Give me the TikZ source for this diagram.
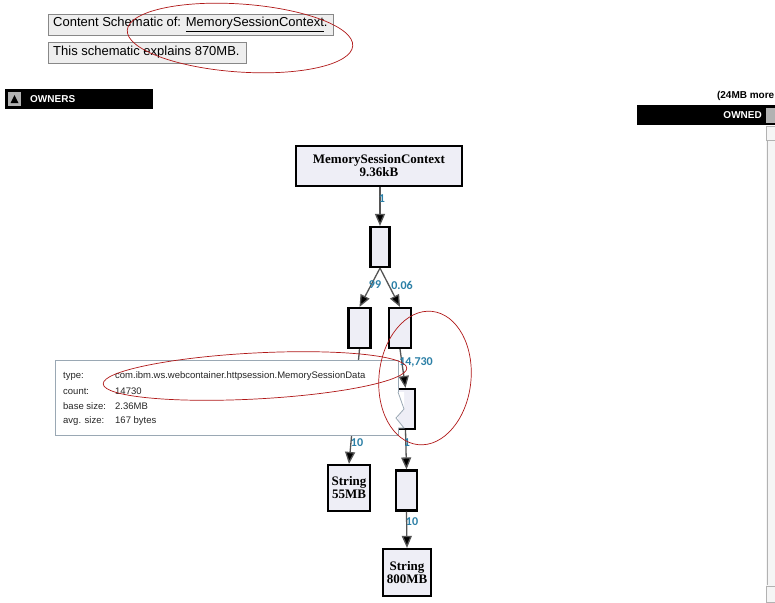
\documentclass[tikz,border=0pt]{standalone}
\usepackage{fontspec}
\setmainfont{Liberation Sans}
\newfontfamily\graphfont{Liberation Serif}
\newfontfamily\lblfont{Carlito}
\usetikzlibrary{arrows.meta,shapes.geometric}
\definecolor{boxgray}{HTML}{EEEEEE}
\definecolor{bordergray}{HTML}{888888}
\definecolor{nodefill}{HTML}{EEEEF6}
\definecolor{teal}{HTML}{2B7FA6}
\definecolor{edgegray}{HTML}{555555}
\definecolor{redline}{HTML}{B01818}
\definecolor{tipgray}{HTML}{9AA8B4}
\tikzset{
  infobox/.style={draw=bordergray,fill=boxgray,line width=0.8,inner sep=0,anchor=north west},
  headtext/.style={anchor=west,inner sep=0,font=\fontsize{13}{15}\selectfont},
  graphnode/.style={draw=black,fill=nodefill,line width=2.2,inner sep=0,font=\graphfont\bfseries\fontsize{13}{13}\selectfont,align=center},
  smallrect/.style={graphnode,minimum width=19,minimum height=40},
  edge/.style={draw=edgegray,line width=1.3,-{Triangle[length=12,width=10,fill=black]}},
  elabel/.style={text=teal,font=\lblfont\bfseries\fontsize{12}{12}\selectfont,inner sep=1},
  redring/.style={draw=redline,line width=0.7},
  bar/.style={fill=black},
  bartext/.style={text=white,font=\bfseries\fontsize{10}{10}\selectfont},
  tiplabel/.style={font=\fontsize{9.5}{10}\selectfont,anchor=west,inner sep=0,text=black!85}
}
\begin{document}
\begin{tikzpicture}[x=1pt,y=-1pt]
\useasboundingbox (0,0) rectangle (775,602);
\fill[white] (0,0) rectangle (775,602);
% header boxes
\node[infobox,minimum width=285,minimum height=21] (h1) at (48,14) {};
\node[headtext] (h1t) at (53,24.5) {Content Schematic of: \underline{MemorySessionContext}.};
\node[infobox,minimum width=198,minimum height=21] (h2) at (48,42) {};
\node[headtext] (h2t) at (53,52.5) {This schematic explains 870MB.};
% owners bar
\fill[bar] (5,89) rectangle (153,109);
\fill[gray!60] (8,92) rectangle (21,106);
\fill[black] (10.5,103) -- (18.5,103) -- (14.5,95) -- cycle;
\node[bartext,anchor=west,inner sep=0] (own) at (30,99) {OWNERS};
% owned bar
\node[anchor=east,inner sep=0,font=\bfseries\fontsize{10}{10}\selectfont] (more) at (774.5,96) {(24MB more};
\fill[bar] (637,105) rectangle (775,125);
\node[bartext,anchor=east,inner sep=0] (owned) at (762,115) {OWNED};
\fill[gray!60] (766,108) rectangle (775,123);
% scrollbar
\fill[gray!8] (766,126) rectangle (775,602);
\draw[gray!60,line width=0.8] (767,140) -- (767,585);
\draw[gray!60,line width=0.6] (766,126) rectangle (776,140);
\draw[gray!60,line width=0.6] (766,586) rectangle (776,602);
% graph nodes
\node[graphnode,minimum width=166,minimum height=40] (msc) at (379,166) {MemorySessionContext\\9.36kB};
\node[smallrect] (r1) at (380,247) {};
\node[smallrect,minimum width=22] (r2) at (359.5,328) {};
\node[smallrect,minimum width=22] (r3) at (400,328) {};
\node[smallrect] (r4) at (405.5,409) {};
\node[graphnode,minimum width=42,minimum height=46] (s55) at (349,488) {String\\55MB};
\node[smallrect,minimum width=21] (r5) at (406.5,490.5) {};
\node[graphnode,minimum width=48,minimum height=47] (s800) at (407,572.5) {String\\800MB};
% edges
\draw[edge] (msc.south -| r1) -- (r1.north);
\draw[edge] (r1.south) -- (r2.north);
\draw[edge] (r1.south) -- (r3.north);
\draw[edge] (r3.south) -- (r4.north);
\draw[edge] (r2.south) -- (s55.north);
\draw[edge] (r4.south) -- (r5.north);
\draw[edge] (r5.south) -- (s800.north);
% edge labels
\node[elabel] (l1) at (382,199) {1};
\node[elabel] (l2) at (375,285) {99};
\node[elabel] (l3) at (402,285) {0.06};
\node[elabel] (l4) at (416,362) {14,730};
\node[elabel] (l5) at (357,443) {10};
\node[elabel] (l6) at (407,443) {1};
\node[elabel] (l7) at (412,522) {10};
% tooltip
\fill[white] (55,360) rectangle (398,435);
\draw[tipgray,line width=0.8] (398,392) -- (398,360) -- (55,360) -- (55,435) -- (398,435) -- (398,428);
\fill[white] (398,392) -- (404,392) -- (404,409) -- (396,418) -- (404,428) -- (398,428) -- cycle;
\draw[tipgray,line width=0.8] (398,392) -- (404,409) -- (396,418) -- (404,428) -- (398,428);
\node[tiplabel] (t1) at (63,376) {type:};
\node[tiplabel] (t2) at (63,391) {count:};
\node[tiplabel] (t3) at (63,406) {base size:};
\node[tiplabel] (t4) at (63,421) {avg. size:};
\node[tiplabel] (v1) at (115,376) {com.ibm.ws.webcontainer.httpsession.MemorySessionData};
\node[tiplabel] (v2) at (115,391) {14730};
\node[tiplabel] (v3) at (115,406) {2.36MB};
\node[tiplabel] (v4) at (115,421) {167 bytes};
% red annotation ellipses
\draw[redring,rotate around={-4:(240,38)}] (240,38) ellipse [x radius=113, y radius=34];
\draw[redring,rotate around={3:(255,376)}] (255,376) ellipse [x radius=152, y radius=23];
\draw[redring,rotate around={-6:(425,378)}] (425,378) ellipse [x radius=46, y radius=67];
\end{tikzpicture}
\end{document}
